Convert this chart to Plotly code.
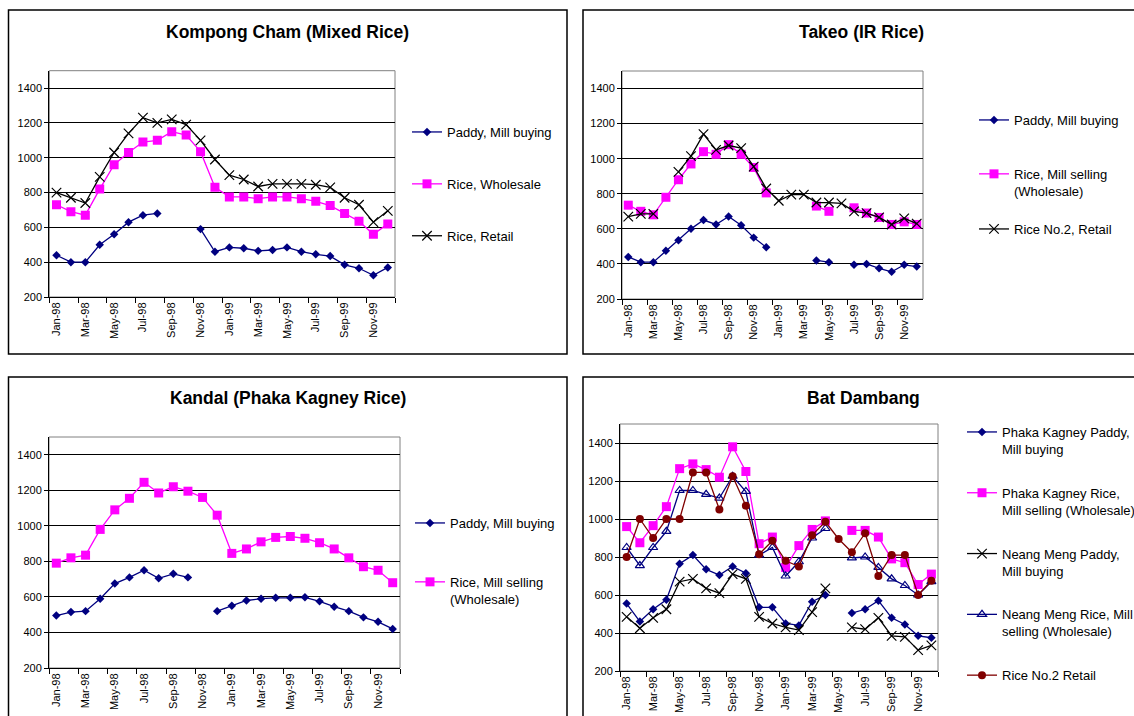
import plotly.graph_objects as go

# The page's body margin is removed after plotting (see write_html below),
# so figure pixels equal page pixels.
OFF = 0
W, H = 1134, 716

months = ["Jan-98", "Feb-98", "Mar-98", "Apr-98", "May-98", "Jun-98", "Jul-98", "Aug-98",
          "Sep-98", "Oct-98", "Nov-98", "Dec-98", "Jan-99", "Feb-99", "Mar-99", "Apr-99",
          "May-99", "Jun-99", "Jul-99", "Aug-99", "Sep-99", "Oct-99", "Nov-99", "Dec-99"]
y_ticks = [200, 400, 600, 800, 1000, 1200, 1400]

# Kompong Cham (Mixed Rice)
kc_paddy = [440, 400, 400, 500, 560, 630, 670, 680, None, None, 590, 460,
            485, 480, 465, 470, 485, 460, 445, 435, 385, 365, 325, 370]
kc_wholesale = [730, 690, 670, 820, 960, 1030, 1090, 1100, 1150, 1130, 1035, 830,
                775, 775, 765, 775, 775, 765, 750, 725, 680, 635, 560, 620]
kc_retail = [800, 770, 740, 890, 1030, 1140, 1230, 1200, 1220, 1190, 1100, 990,
             900, 875, 835, 850, 850, 850, 845, 830, 770, 730, 630, 695]

# Takeo (IR Rice)
tk_paddy = [440, 410, 410, 475, 535, 600, 650, 625, 670, 620, 550, 495,
            None, None, None, 420, 410, None, 395, 400, 375, 355, 395, 385]
tk_mill = [735, 700, 680, 780, 880, 970, 1040, 1025, 1080, 1025, 950, 805,
           None, None, None, 730, 700, None, 720, 690, 665, 625, 640, 625]
tk_retail = [670, 685, 685, None, 925, 1015, 1140, 1050, 1075, 1060, 955, 830,
             760, 795, 795, 750, 750, 745, 700, 690, 665, 625, 660, 630]

# Kandal (Phaka Kagney Rice)
kd_paddy = [495, 515, 520, 590, 675, 710, 750, 705, 730, 710, None, 520,
            550, 580, 590, 595, 595, 598, 575, 545, 520, 485, 460, 420]
kd_mill = [790, 820, 835, 980, 1090, 1155, 1245, 1185, 1220, 1195, 1160, 1060,
           845, 870, 910, 935, 940, 930, 905, 870, 820, 770, 750, 680]

# Bat Dambang
bd_pk_paddy = [555, 460, 525, 575, 765, 810, 735, 705, 750, 715, 535, 535,
               450, 440, 565, 600, None, 505, 525, 570, 480, 445, 385, 375]
bd_pk_rice = [960, 875, 965, 1065, 1265, 1290, 1260, 1220, 1380, 1250, 870, 905,
              745, 860, 945, 990, None, 940, 940, 905, 790, 770, 655, 710]
bd_nm_paddy = [485, 425, 480, 525, 670, 685, 635, 610, 710, 685, 485, 450,
               430, 415, 510, 635, None, 430, 420, 480, 385, 380, 310, 335]
bd_nm_rice = [850, 755, 850, 935, 1150, 1150, 1130, 1110, 1225, 1145, 810, 850,
              700, 775, 900, 950, None, 795, 800, 745, 685, 650, 600, 670]
bd_retail = [800, 1000, 900, 1000, 1000, 1245, 1245, 1050, 1225, 1070, 815, 885,
             780, 750, 915, 985, 895, 825, 925, 700, 810, 810, 600, 675]

FONT = "Liberation Sans, Arial, sans-serif"
NAVY, MAG, BLK, DRED = "#000080", "#FF00FF", "#000000", "#800000"


def px_x(v):
    return (v - OFF) / W


def px_y(v):
    return 1 - (v - OFF) / H


STYLE = {
    "paddy": dict(color=NAVY, symbol="diamond", size=6.5),
    "rice": dict(color=MAG, symbol="square", size=9),
    "retail": dict(color=BLK, symbol="x-thin-open", size=9.5),
    "tri": dict(color=NAVY, symbol="triangle-up-open", size=8),
    "dot": dict(color=DRED, symbol="circle", size=8),
}

fig = go.Figure()
gid = [0]


def add(values, name, style, xa, ya, legend):
    st = STYLE[style]
    gid[0] += 1
    mk = dict(color=st["color"], symbol=st["symbol"], size=st["size"])
    if st["symbol"].endswith("open"):
        mk["line"] = dict(color=st["color"], width=1.2)
    fig.add_trace(go.Scatter(
        x=months, y=values, name=name, mode="lines+markers",
        line=dict(color=st["color"], width=1.3), marker=mk,
        xaxis=xa, yaxis=ya, legend=legend, legendgroup="g%d" % gid[0],
        connectgaps=False))


add(kc_paddy, "Paddy, Mill buying", "paddy", "x", "y", "legend")
add(kc_wholesale, "Rice, Wholesale", "rice", "x", "y", "legend")
add(kc_retail, "Rice, Retail", "retail", "x", "y", "legend")

add(tk_paddy, "Paddy, Mill buying", "paddy", "x2", "y2", "legend2")
add(tk_mill, "Rice, Mill selling<br>(Wholesale)", "rice", "x2", "y2", "legend2")
add(tk_retail, "Rice No.2, Retail", "retail", "x2", "y2", "legend3")

add(kd_paddy, "Paddy, Mill buying", "paddy", "x3", "y3", "legend4")
add(kd_mill, "Rice, Mill selling<br>(Wholesale)", "rice", "x3", "y3", "legend4")

add(bd_pk_paddy, "Phaka Kagney Paddy,<br>Mill buying", "paddy", "x4", "y4", "legend5")
add(bd_pk_rice, "Phaka Kagney Rice,<br>Mill selling (Wholesale)", "rice", "x4", "y4", "legend5")
add(bd_nm_paddy, "Neang Meng Paddy,<br>Mill buying", "retail", "x4", "y4", "legend5")
add(bd_nm_rice, "Neang Meng Rice, Mill<br>selling (Wholesale)", "tri", "x4", "y4", "legend5")
add(bd_retail, "Rice No.2 Retail", "dot", "x4", "y4", "legend5")

# plot areas (page pixels): left, right, top, bottom
areas = [
    (49.3, 395, 70.7, 297),
    (622, 923, 71, 299),
    (49, 400, 437, 668),
    (620, 938, 424, 671),
]

layout = dict(
    width=W, height=H, autosize=False,
    margin=dict(l=0, r=0, t=0, b=0, pad=0, autoexpand=False),
    paper_bgcolor="white", plot_bgcolor="white",
    font=dict(family=FONT, color="black", size=11),
    shapes=[], annotations=[],
)

for i, (l, r, t, b) in enumerate(areas):
    sfx = "" if i == 0 else str(i + 1)
    layout["xaxis" + sfx] = dict(
        domain=[px_x(l), px_x(r)], anchor="y" + sfx, type="category",
        categoryorder="array", categoryarray=months, automargin=False,
        range=[-0.5, 23.5], tickmode="linear", tick0=0, dtick=2,
        tickson="boundaries", ticks="outside", ticklen=5, tickcolor="black",
        tickangle=-90, showline=True, linecolor="black", linewidth=1,
        showgrid=False, zeroline=False, tickfont=dict(size=11, family=FONT, color="black"),
        fixedrange=True)
    layout["yaxis" + sfx] = dict(
        domain=[px_y(b), px_y(t)], anchor="x" + sfx, automargin=False,
        range=[200, 1500], tickmode="array", tickvals=y_ticks,
        ticks="outside", ticklen=4, tickcolor="black",
        showline=True, linecolor="black", linewidth=1,
        showgrid=True, gridcolor="#000000", gridwidth=1, zeroline=False,
        tickfont=dict(size=11, family=FONT, color="black"), fixedrange=True)
    layout["shapes"].append(dict(
        type="rect", xref="x%s domain" % sfx, yref="y%s domain" % sfx,
        x0=0, x1=1, y0=0, y1=1, line=dict(color="#808080", width=1), layer="below"))

# panel frames (page pixels)
for (x0, x1, y0, y1) in [(8.5, 567, 10, 354), (583, 1160, 10, 354),
                         (8.5, 567, 377, 740), (583, 1160, 377, 740)]:
    layout["shapes"].append(dict(
        type="rect", xref="paper", yref="paper",
        x0=px_x(x0), x1=px_x(x1), y0=px_y(y1), y1=px_y(y0),
        line=dict(color="black", width=1.5)))

titles = [("Kompong Cham (Mixed Rice)", 287, 32), ("Takeo (IR Rice)", 861, 32),
          ("Kandal (Phaka Kagney Rice)", 288, 398), ("Bat Dambang", 863, 398)]
for text, x, y in titles:
    layout["annotations"].append(dict(
        text="<b>%s</b>" % text, x=px_x(x), y=px_y(y), xref="paper", yref="paper",
        xanchor="center", yanchor="middle", showarrow=False,
        font=dict(size=17.5, family=FONT, color="black")))


def leg(x, y, gap):
    return dict(x=px_x(x), y=px_y(y), xanchor="left", yanchor="top",
                bgcolor="rgba(0,0,0,0)", borderwidth=0, itemwidth=30,
                tracegroupgap=gap, valign="top", itemclick=False, itemdoubleclick=False,
                font=dict(size=13, family=FONT, color="black"))


layout["legend"] = leg(407, 117, 32)
layout["legend2"] = leg(974, 105, 34)
layout["legend3"] = leg(974, 214, 0)
layout["legend4"] = leg(410, 508, 39)
layout["legend5"] = leg(962, 417, 24)

fig.update_layout(**layout)
fig.write_html(
    "out.html",
    config={"displayModeBar": False, "staticPlot": True},
    post_script=("document.body.style.margin='0px';"
                 "document.body.style.overflow='hidden';"
                 "document.documentElement.style.overflow='hidden';"))
